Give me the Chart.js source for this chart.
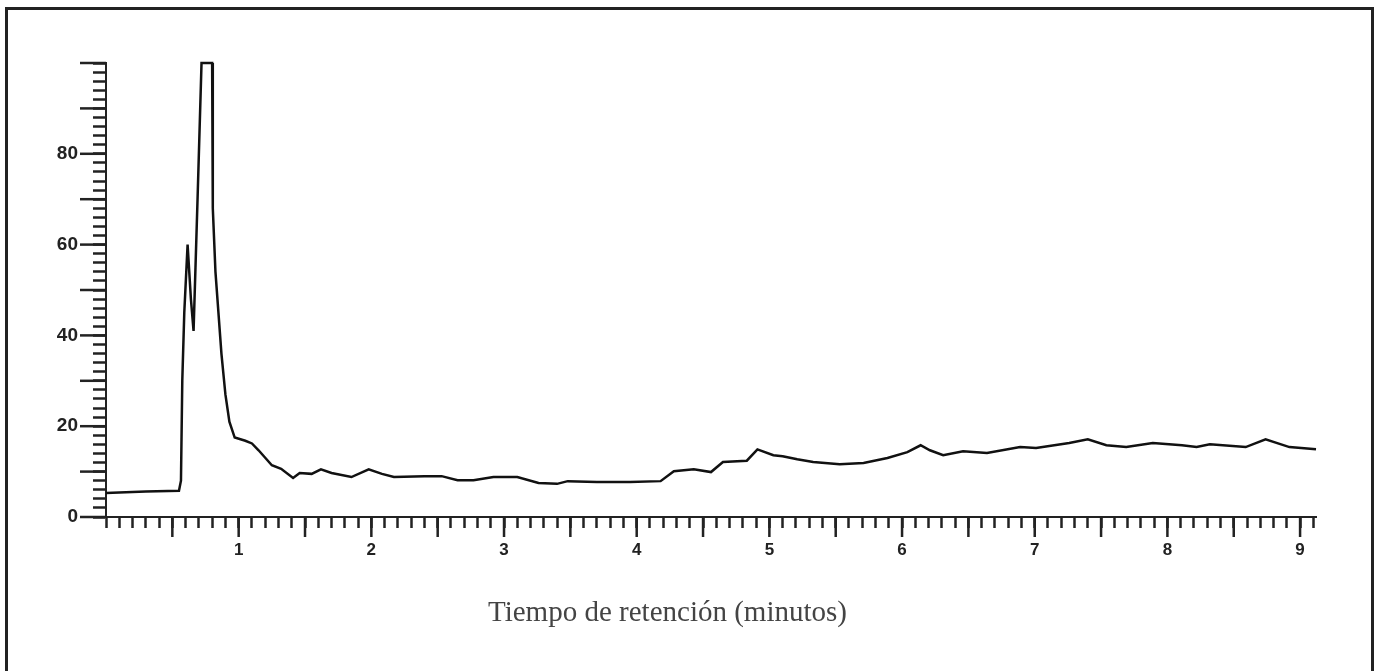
<!DOCTYPE html>
<html lang="es">
  <head>
    <title>Cromatograma</title>
    <script src="https://cdn.jsdelivr.net/npm/chart.js@4.4.0/dist/chart.umd.min.js"></script>
    <style>
      body { margin: 0; background: #fff; }
      #wrap { position: relative; width: 1378px; height: 671px; overflow: hidden; }
      #frame { position: absolute; left: 5px; top: 7px; width: 1363px; height: 700px; border: 3px solid #222; }
      #xtitle { position: absolute; left: 488px; top: 595px; font-family: "Liberation Serif", serif; font-size: 29px; color: #444; white-space: nowrap; }
      canvas { position: absolute; left: 0; top: 0; }
    </style>
  </head>
  <body>
    <div id="wrap">
      <div id="frame"></div>
      <canvas id="chromChart" width="1378" height="671"></canvas>
      <div id="xtitle">Tiempo de retención (minutos)</div>
    </div>
    <script>
      // retention time (min) and detector response
      const times = [0.00, 0.30, 0.55, 0.565, 0.575, 0.59, 0.615, 0.64, 0.66, 0.69, 0.72, 0.80, 0.805, 0.825,
        0.87, 0.90, 0.93, 0.97, 1.05, 1.10, 1.15, 1.25, 1.32, 1.41, 1.46, 1.55, 1.62, 1.70, 1.85, 1.98,
        2.08, 2.17, 2.40, 2.53, 2.65, 2.77, 2.92, 3.10, 3.26, 3.40, 3.48, 3.70, 3.95, 4.18, 4.28, 4.43,
        4.56, 4.65, 4.83, 4.91, 5.03, 5.10, 5.21, 5.33, 5.53, 5.71, 5.89, 6.04, 6.14, 6.21, 6.31, 6.46,
        6.64, 6.89, 7.01, 7.26, 7.40, 7.54, 7.69, 7.89, 8.11, 8.22, 8.32, 8.59, 8.74, 8.92, 9.12];
      const response = [5.3, 5.6, 5.8, 8, 30, 45, 60, 48, 41, 70, 100, 100, 68, 54,
        36, 27, 21, 17.5, 16.8, 16.2, 14.7, 11.4, 10.6, 8.6, 9.7, 9.5, 10.5, 9.7, 8.8, 10.5,
        9.5, 8.8, 9.0, 9.0, 8.1, 8.1, 8.8, 8.8, 7.5, 7.3, 7.9, 7.7, 7.7, 7.9, 10.1, 10.5,
        9.9, 12.1, 12.4, 14.9, 13.6, 13.4, 12.7, 12.1, 11.6, 11.9, 13.0, 14.3, 15.8, 14.7, 13.6, 14.5,
        14.1, 15.4, 15.2, 16.3, 17.1, 15.8, 15.4, 16.3, 15.8, 15.4, 16.0, 15.4, 17.1, 15.4, 14.9];
      const xLabels = [1, 2, 3, 4, 5, 6, 7, 8, 9];
      const yLabels = [0, 20, 40, 60, 80];

      const ink = "#222";

      // longer tick marks at every half minute and every 10 units
      const longTicks = {
        id: "longTicks",
        afterDraw(chart) {
          const ctx = chart.ctx;
          const xs = chart.scales.x, ys = chart.scales.y;
          ctx.save();
          ctx.strokeStyle = ink;
          ctx.lineWidth = 2.5;
          xs.ticks.forEach(t => {
            const v = Math.round(t.value * 10);
            if (v > 0 && v % 5 === 0) {
              const px = xs.getPixelForValue(t.value);
              ctx.beginPath();
              ctx.moveTo(px, xs.top);
              ctx.lineTo(px, xs.top + 20);
              ctx.stroke();
            }
          });
          ys.ticks.forEach(t => {
            const v = Math.round(t.value);
            if (v % 10 === 0) {
              const py = ys.getPixelForValue(t.value);
              ctx.beginPath();
              ctx.moveTo(ys.right, py);
              ctx.lineTo(ys.right - 26, py);
              ctx.stroke();
            }
          });
          ctx.restore();
        }
      };

      const ctx = document.getElementById("chromChart").getContext("2d");
      new Chart(ctx, {
        type: "line",
        data: {
          datasets: [{
            data: times.map((t, i) => ({ x: t, y: response[i] })),
            borderColor: "#111",
            borderWidth: 2.5,
            pointRadius: 0,
            tension: 0,
            clip: 4
          }]
        },
        options: {
          responsive: false,
          animation: false,
          layout: { padding: { left: 0, right: 62, top: 63, bottom: 0 } },
          plugins: { legend: { display: false }, tooltip: { enabled: false } },
          scales: {
            x: {
              type: "linear",
              min: 0,
              max: 9.12,
              afterFit: s => { s.height = 154; },
              border: { display: true, color: ink, width: 2 },
              grid: { drawOnChartArea: false, tickLength: 11, tickWidth: 2.5, tickColor: ink },
              ticks: {
                stepSize: 0.1,
                autoSkip: false,
                includeBounds: false,
                maxRotation: 0,
                padding: 12,
                color: ink,
                font: { family: "Liberation Sans", size: 17, weight: "bold" },
                callback: v => {
                  const r = Math.round(v);
                  return Math.abs(v - r) < 1e-6 && xLabels.includes(r) ? String(r) : "";
                }
              }
            },
            y: {
              min: 0,
              max: 100,
              afterFit: s => { s.width = 106; },
              border: { display: true, color: ink, width: 2 },
              grid: { drawOnChartArea: false, tickLength: 13, tickWidth: 2.5, tickColor: ink },
              ticks: {
                stepSize: 2,
                autoSkip: false,
                padding: 15,
                color: ink,
                font: { family: "Liberation Sans", size: 19, weight: "bold" },
                callback: v => (yLabels.includes(v) ? String(v) : "")
              }
            }
          }
        },
        plugins: [longTicks]
      });
    </script>
  </body>
</html>
